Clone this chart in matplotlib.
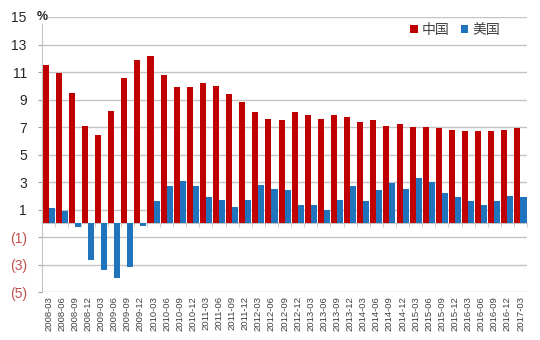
import numpy as np
import matplotlib
matplotlib.use('Agg')
import matplotlib.pyplot as plt

plt.rcParams['font.family'] = ['Noto Sans CJK SC', 'DejaVu Sans']

# quarters 2008-03 .. 2017-03
quarters = ['2008-03', '2008-06', '2008-09', '2008-12',
            '2009-03', '2009-06', '2009-09', '2009-12',
            '2010-03', '2010-06', '2010-09', '2010-12',
            '2011-03', '2011-06', '2011-09', '2011-12',
            '2012-03', '2012-06', '2012-09', '2012-12',
            '2013-03', '2013-06', '2013-09', '2013-12',
            '2014-03', '2014-06', '2014-09', '2014-12',
            '2015-03', '2015-06', '2015-09', '2015-12',
            '2016-03', '2016-06', '2016-09', '2016-12',
            '2017-03']

china = [11.5, 10.9, 9.5, 7.1, 6.4, 8.2, 10.6, 11.9,
         12.2, 10.8, 9.9, 9.9, 10.2, 10.0, 9.4, 8.8,
         8.1, 7.6, 7.5, 8.1, 7.9, 7.6, 7.9, 7.7,
         7.4, 7.5, 7.1, 7.2, 7.0, 7.0, 6.9, 6.8,
         6.7, 6.7, 6.7, 6.8, 6.9]

usa = [1.1, 0.9, -0.3, -2.7, -3.4, -4.0, -3.2, -0.2,
       1.6, 2.7, 3.1, 2.7, 1.9, 1.7, 1.2, 1.7,
       2.8, 2.5, 2.4, 1.3, 1.3, 1.0, 1.7, 2.7,
       1.6, 2.4, 2.9, 2.5, 3.3, 3.0, 2.2, 1.9,
       1.6, 1.3, 1.6, 2.0, 1.9]

yticks = [-5, -3, -1, 1, 3, 5, 7, 9, 11, 13, 15]

RED = '#c00000'
BLUE = '#1f74bd'
NEG = '#c0504d'
GRID = '#c4c4c4'

fig = plt.figure(figsize=(5.4, 3.4), dpi=100)
ax = fig.add_axes([0.078, 0.141, 0.898, 0.809])

x = np.arange(len(quarters))
w = 0.46
ax.bar(x - w / 2, china, w, color=RED, label='中国', zorder=3)
ax.bar(x + w / 2, usa, w, color=BLUE, label='美国', zorder=3)

ax.set_xlim(-0.5, len(quarters) - 0.5)
ax.set_ylim(-5, 15)
ax.set_yticks(yticks)
ax.set_yticklabels([str(v) if v > 0 else '(%d)' % -v for v in yticks],
                   fontsize=10, family=['Liberation Sans', 'DejaVu Sans'])
for lab, v in zip(ax.get_yticklabels(), yticks):
    lab.set_color('#262626' if v > 0 else NEG)
ax.tick_params(axis='y', length=3, color='#a0a0a0', pad=8)
ax.grid(axis='y', color=GRID, linewidth=1.0, zorder=0)

# zero line with small ticks between groups
ax.spines['bottom'].set_position(('data', 0))
ax.spines['bottom'].set_color(GRID)
ax.set_xticks(x)
ax.set_xticklabels([])
ax.tick_params(axis='x', which='major', length=0)
ax.set_xticks(np.arange(len(quarters) + 1) - 0.5, minor=True)
ax.tick_params(axis='x', which='minor', length=3, color=GRID, direction='out')

# date labels along the bottom
sec = ax.secondary_xaxis(0.0)
sec.set_xticks(x)
sec.set_xticklabels(quarters, rotation=90, fontsize=6.8, color='#404040',
                    family=['Liberation Sans', 'DejaVu Sans'])
sec.tick_params(length=0, pad=3)
sec.spines['bottom'].set_visible(False)

for s in ['top', 'right']:
    ax.spines[s].set_visible(False)
ax.spines['left'].set_color(GRID)

ax.text(0.0, 15, '%', fontsize=9, fontweight='bold', ha='center', va='center',
        color='#262626', transform=ax.get_yaxis_transform(), zorder=4,
        bbox=dict(facecolor='white', edgecolor='none', pad=0.5),
        family=['Liberation Sans', 'DejaVu Sans'])

ax.legend(loc='center right', bbox_to_anchor=(0.965, 0.952), ncol=2, frameon=False,
          fontsize=10, handlelength=0.55, handleheight=0.55, handletextpad=0.3,
          columnspacing=0.8, labelcolor='#404040', borderpad=0.2)

fig.savefig('out.png', dpi=100)
